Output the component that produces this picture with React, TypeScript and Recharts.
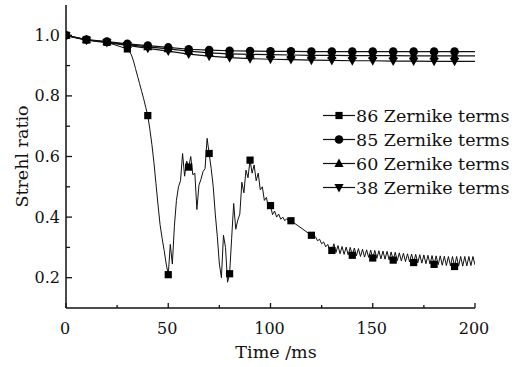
import React from 'react';
import { LineChart, Line, XAxis, YAxis, Legend } from 'recharts';

// Sampling times (ms) and Strehl ratio for the 86-term reconstruction
const times86 = [
  0, 10, 20, 30, 31, 32, 33, 34, 35, 36, 37, 38, 39, 40, 41, 42, 43, 44, 45, 46, 47, 48, 49,
  50, 51, 52, 53, 54, 55, 56, 57, 58, 59, 60, 61, 62, 63, 64, 65, 66, 67, 68, 69,
  70, 71, 72, 73, 74, 75, 76, 77, 78, 79, 80, 81, 82, 83, 84, 85, 86, 87, 88, 89,
  90, 91, 92, 93, 94, 95, 96, 97, 98, 99, 100, 101, 102, 103, 104, 105, 106, 107, 108, 109,
  110, 120, 121, 122, 123, 124, 125, 126, 127, 128, 129,
  130, 131, 132, 133, 134, 135, 136, 137, 138, 139, 140, 141, 142, 143, 144, 145, 146, 147, 148, 149,
  150, 151, 152, 153, 154, 155, 156, 157, 158, 159, 160, 161, 162, 163, 164, 165, 166, 167, 168, 169,
  170, 171, 172, 173, 174, 175, 176, 177, 178, 179, 180, 181, 182, 183, 184, 185, 186, 187, 188, 189,
  190, 191, 192, 193, 194, 195, 196, 197, 198, 199, 200,
];
const strehl86 = [
  1.0, 0.985, 0.977, 0.955, 0.947, 0.935, 0.915, 0.89, 0.865, 0.84, 0.815, 0.79, 0.762, 0.735, 0.69, 0.64, 0.58, 0.51, 0.44, 0.375, 0.33, 0.29, 0.245,
  0.21, 0.31, 0.245, 0.37, 0.455, 0.5, 0.52, 0.61, 0.535, 0.585, 0.565, 0.6, 0.54, 0.545, 0.425, 0.505, 0.525, 0.55, 0.56, 0.66,
  0.61, 0.56, 0.5, 0.41, 0.335, 0.245, 0.2, 0.34, 0.3, 0.185, 0.213, 0.33, 0.445, 0.36, 0.39, 0.41, 0.515, 0.48, 0.555, 0.53,
  0.588, 0.545, 0.572, 0.52, 0.545, 0.49, 0.5, 0.455, 0.465, 0.43, 0.438, 0.408, 0.42, 0.4, 0.41, 0.393, 0.4, 0.388, 0.395, 0.386,
  0.388, 0.34, 0.332, 0.335, 0.322, 0.327, 0.312, 0.318, 0.302, 0.31, 0.292,
  0.29, 0.312, 0.283, 0.306, 0.279, 0.303, 0.277, 0.301, 0.275, 0.3, 0.274, 0.298, 0.272, 0.296, 0.27, 0.294, 0.268, 0.292, 0.267, 0.291,
  0.265, 0.29, 0.264, 0.289, 0.262, 0.288, 0.261, 0.287, 0.259, 0.285, 0.258, 0.284, 0.256, 0.282, 0.255, 0.281, 0.253, 0.279, 0.252, 0.278,
  0.25, 0.277, 0.249, 0.276, 0.248, 0.275, 0.246, 0.274, 0.245, 0.273, 0.244, 0.272, 0.243, 0.272, 0.241, 0.271, 0.24, 0.27, 0.239, 0.27,
  0.237, 0.27, 0.238, 0.27, 0.238, 0.27, 0.239, 0.27, 0.24, 0.27, 0.242,
];

// The other reconstructions, sampled every 10 ms
const times10 = [0, 10, 20, 30, 40, 50, 60, 70, 80, 90, 100, 110, 120, 130, 140, 150, 160, 170, 180, 190, 200];
const strehl85 = [1.0, 0.986, 0.979, 0.972, 0.966, 0.96, 0.954, 0.951, 0.949, 0.948, 0.947, 0.947, 0.946, 0.946, 0.946, 0.946, 0.946, 0.946, 0.946, 0.946, 0.946];
const strehl60 = [1.0, 0.985, 0.978, 0.969, 0.962, 0.955, 0.948, 0.942, 0.939, 0.937, 0.936, 0.935, 0.934, 0.934, 0.933, 0.933, 0.933, 0.932, 0.932, 0.932, 0.932];
const strehl38 = [0.999, 0.984, 0.976, 0.967, 0.957, 0.948, 0.938, 0.931, 0.926, 0.923, 0.921, 0.92, 0.918, 0.917, 0.916, 0.916, 0.915, 0.915, 0.914, 0.914, 0.914];

const xTicks = [0, 25, 50, 75, 100, 125, 150, 175, 200];
const xLabelTicks = [0, 50, 100, 150, 200];
const yTicks = [0.2, 0.3, 0.4, 0.5, 0.6, 0.7, 0.8, 0.9, 1.0];
const yLabelTicks = [0.2, 0.4, 0.6, 0.8, 1.0];

const legendNames = ['86 Zernike terms', '85 Zernike terms', '60 Zernike terms', '38 Zernike terms'];

const FONT = '"DejaVu Serif", serif';
const INK = '#111';
const TICK_MARGIN = 10;

const toPoints = (ts: number[], vs: number[]) => ts.map((t, i) => ({ t, v: vs[i] }));
const data86 = toPoints(times86, strehl86);
const data85 = toPoints(times10, strehl85);
const data60 = toPoints(times10, strehl60);
const data38 = toPoints(times10, strehl38);

const hasMarker = (t: number) => t % 10 === 0 && t < 200;

type Shape = 'square' | 'circle' | 'up' | 'down';

const markerShape = (shape: Shape, cx: number, cy: number, key?: any) => {
  if (shape === 'square') return <rect key={key} x={cx - 3.6} y={cy - 3.6} width={7.2} height={7.2} fill="#000" />;
  if (shape === 'circle') return <circle key={key} cx={cx} cy={cy} r={4.3} fill="#000" />;
  if (shape === 'up')
    return <polygon key={key} points={`${cx},${cy - 5} ${cx + 4.6},${cy + 3.4} ${cx - 4.6},${cy + 3.4}`} fill="#000" />;
  return <polygon key={key} points={`${cx},${cy + 5} ${cx + 4.6},${cy - 3.4} ${cx - 4.6},${cy - 3.4}`} fill="#000" />;
};

const makeDot = (shape: Shape) => (props: any) => {
  const { cx, cy, payload, index } = props;
  if (!hasMarker(payload.t) || cx == null || cy == null) return <g key={`e-${index}`} />;
  return markerShape(shape, cx, cy, `m-${index}`);
};

const XTick = (props: any) => {
  const { x, y, payload } = props;
  const axisY = y - TICK_MARGIN;
  const major = xLabelTicks.includes(payload.value);
  return (
    <g>
      <line x1={x} x2={x} y1={axisY} y2={axisY - (major ? 5 : 3)} stroke={INK} strokeWidth={1.3} />
      {major && (
        <text x={x - 1} y={axisY + 26} textAnchor="middle" fontFamily={FONT} fontSize={16} fill={INK}>
          {payload.value}
        </text>
      )}
    </g>
  );
};

const YTick = (props: any) => {
  const { x, y, payload } = props;
  const axisX = x + TICK_MARGIN;
  const major = yLabelTicks.some((v) => Math.abs(v - payload.value) < 1e-6);
  return (
    <g>
      <line x1={axisX} x2={axisX + (major ? 6 : 4)} y1={y} y2={y} stroke={INK} strokeWidth={1.3} />
      {major && (
        <text x={axisX - 6} y={y + 5.5} textAnchor="end" fontFamily={FONT} fontSize={16} fill={INK}>
          {payload.value.toFixed(1)}
        </text>
      )}
    </g>
  );
};

const legendShapes: Shape[] = ['square', 'circle', 'up', 'down'];

const renderLegend = () => (
  <svg width={200} height={100} style={{ overflow: 'visible' }}>
    {legendNames.map((name, i) => {
      const cy = 15.5 + i * 24;
      return (
        <g key={name}>
          <line x1={5} x2={37} y1={cy} y2={cy} stroke={INK} strokeWidth={1.2} />
          {markerShape(legendShapes[i], 21, cy)}
          <text x={38} y={cy + 6} fontFamily={FONT} fontSize={17.5} fill={INK}>
            {name}
          </text>
        </g>
      );
    })}
  </svg>
);

const XLabel = (props: any) => {
  const { viewBox } = props;
  return (
    <text x={viewBox.x + viewBox.width / 2 + 5.5} y={viewBox.y + 49.5} textAnchor="middle" fontFamily={FONT} fontSize={17.5} fill={INK}>
      Time /ms
    </text>
  );
};

const YLabel = (props: any) => {
  const { viewBox } = props;
  const cy = viewBox.y + viewBox.height / 2;
  return (
    <text transform={`translate(28, ${cy}) rotate(-90)`} textAnchor="middle" fontFamily={FONT} fontSize={17.5} fill={INK}>
      Strehl ratio
    </text>
  );
};

export default function App() {
  return (
    <div style={{ position: 'absolute', left: 0, top: 0, width: 526, height: 367, background: '#fff' }}>
      <LineChart width={526} height={367} margin={{ top: 5, right: 51, left: 6, bottom: 29 }}>
        <XAxis
          type="number"
          dataKey="t"
          domain={[0, 200]}
          ticks={xTicks}
          interval={0}
          allowDataOverflow
          height={30}
          tickSize={0}
          tickMargin={TICK_MARGIN}
          tickLine={false}
          tick={(p: any) => <XTick {...p} />}
          axisLine={{ stroke: INK, strokeWidth: 1.5 }}
          label={(p: any) => <XLabel {...p} />}
        />
        <YAxis
          type="number"
          dataKey="v"
          domain={[0.1, 1.1]}
          ticks={yTicks}
          interval={0}
          allowDataOverflow
          width={60}
          tickSize={0}
          tickMargin={TICK_MARGIN}
          tickLine={false}
          tick={(p: any) => <YTick {...p} />}
          axisLine={{ stroke: INK, strokeWidth: 1.5 }}
          label={(p: any) => <YLabel {...p} />}
        />
        <Legend
          layout="vertical"
          align="center"
          verticalAlign="middle"
          content={renderLegend}
          wrapperStyle={{ left: 318, top: 100, width: 200, height: 100 }}
        />
        <Line data={data38} dataKey="v" stroke={INK} strokeWidth={1.2} dot={makeDot('down')} isAnimationActive={false} />
        <Line data={data60} dataKey="v" stroke={INK} strokeWidth={1.2} dot={makeDot('up')} isAnimationActive={false} />
        <Line data={data85} dataKey="v" stroke={INK} strokeWidth={1.2} dot={makeDot('circle')} isAnimationActive={false} />
        <Line data={data86} dataKey="v" stroke={INK} strokeWidth={1} dot={makeDot('square')} isAnimationActive={false} />
      </LineChart>
    </div>
  );
}
